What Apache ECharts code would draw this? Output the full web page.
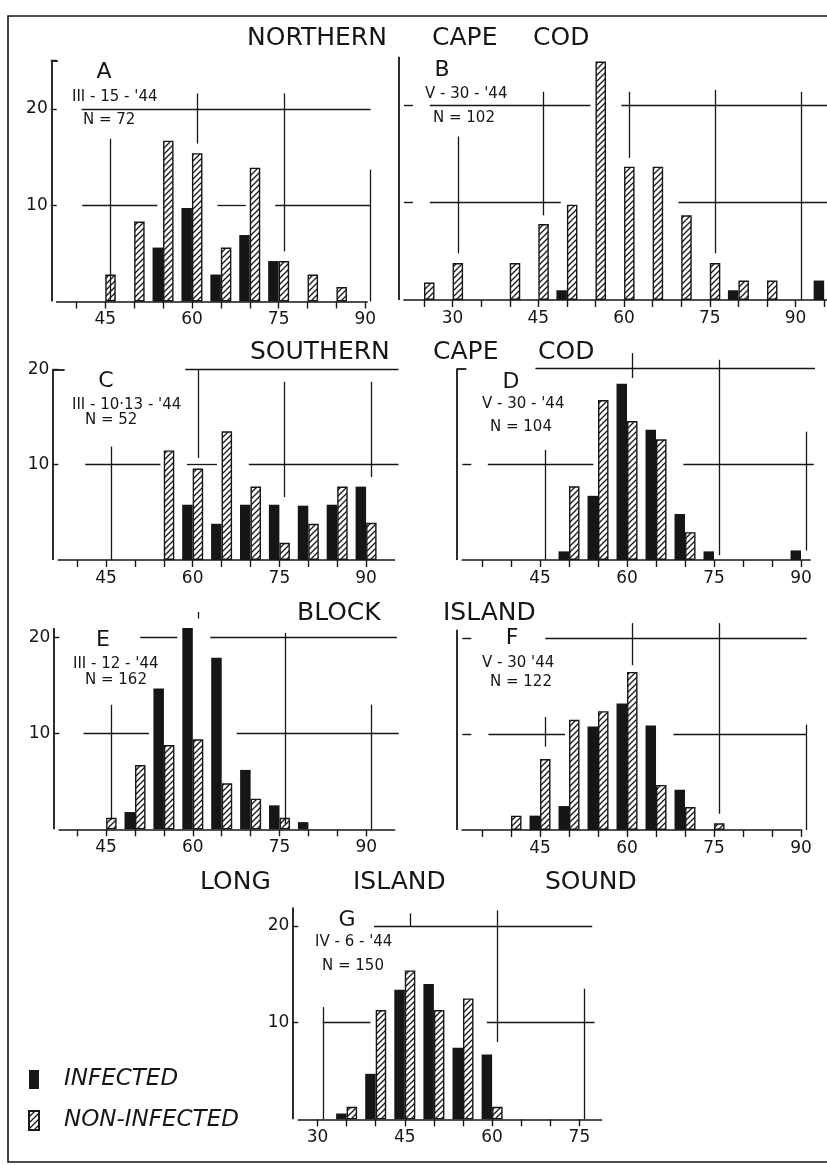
<!DOCTYPE html>
<html><head><meta charset="utf-8">
<script src="https://cdn.jsdelivr.net/npm/echarts@6/dist/echarts.min.js"></script>
<style>html,body{margin:0;padding:0;background:#fff}#c{width:827px;height:1165px}</style>
</head><body><div id="c"></div>
<script>
// ---------- DATA (percent of sample per 5-unit class) ----------
const binsA = [45,50,55,60,65,70,75,80,85];
const infA  = [0,0,5.6,9.7,2.8,6.9,4.2,0,0];
const nonA  = [2.8,8.3,16.7,15.4,5.6,13.9,4.2,2.8,1.5];

const binsB = [25,30,35,40,45,50,55,60,65,70,75,80,85,90,95];
const infB  = [0,0,0,0,0,1.0,0,0,0,0,0,1.0,0,0,2.0];
const nonB  = [1.8,3.8,0,3.8,7.8,9.8,24.5,13.7,13.7,8.7,3.8,2.0,2.0,0,0];

const binsC = [55,60,65,70,75,80,85,90];
const infC  = [0,5.8,3.8,5.8,5.8,5.7,5.8,7.7];
const nonC  = [11.5,9.6,13.5,7.7,1.8,3.8,7.7,3.9];

const binsD = [50,55,60,65,70,75,80,85,90];
const infD  = [0.9,6.7,18.4,13.6,4.8,0.9,0,0,1.0];
const nonD  = [7.7,16.7,14.5,12.6,2.9,0,0,0,0];

const binsE = [45,50,55,60,65,70,75,80];
const infE  = [0,1.8,14.7,21.0,17.9,6.2,2.5,0.75];
const nonE  = [1.2,6.7,8.8,9.4,4.8,3.2,1.2,0];

const binsF = [40,45,50,55,60,65,70,75];
const infF  = [0,1.5,2.5,10.8,13.2,10.9,4.2,0];
const nonF  = [1.5,7.4,11.5,12.4,16.5,4.7,2.4,0.7];

const binsG = [35,40,45,50,55,60];
const infG  = [0.6,4.7,13.4,14.0,7.4,6.7];
const nonG  = [1.3,11.3,15.4,11.3,12.5,1.3];

// tick values / labels
const xTicksA = [40,45,50,55,60,65,70,75,80,85,90], xLabelsA = [45,60,75,90];
const xTicksB = [25,30,35,40,45,50,55,60,65,70,75,80,85,90,95], xLabelsB = [30,45,60,75,90];
const xTicksC = [40,45,50,55,60,65,70,75,80,85,90], xLabelsC = [45,60,75,90];
const xTicksD = [35,40,45,50,55,60,65,70,75,80,85,90], xLabelsD = [45,60,75,90];
const xTicksE = [40,45,50,55,60,65,70,75,80,85,90], xLabelsE = [45,60,75,90];
const xTicksF = [35,40,45,50,55,60,65,70,75,80,85,90], xLabelsF = [45,60,75,90];
const xTicksG = [30,35,40,45,50,55,60,65,70,75], xLabelsG = [30,45,60,75];
const yLabelsLeft = [10,20];

// hand-drawn guide segments (data coordinates)
const guidesA = [[[40,20],[90,20]],[[40.1,10],[53.1,10]],[[63.5,10],[68.4,10]],[[73.5,10],[90,10]],
  [[45,0],[45,16.9]],[[60,16.4],[60,21.6]],[[75,5.2],[75,21.6]],[[90,0],[90,13.7]]];
const guidesB = [[[25.1,20],[53.2,20]],[[58.6,20],[95.5,20]],[[25.1,10],[48,10]],[[68.6,10],[95.5,10]],
  [[30,4.8],[30,16.8]],[[45,8.7],[45,21.4]],[[60,14.6],[60,21.4]],[[75,4.8],[75,21.6]],[[90,0],[90,21.4]]];
const guidesC = [[[57.8,20],[94.7,20]],[[40.5,10],[53.5,10]],[[58.1,10],[63.3,10]],[[68.8,10],[94.7,10]],
  [[45,0],[45,11.9]],[[60,10.7],[60,20]],[[75,6.6],[75,18.7]],[[90,8.7],[90,18.7]]];
const guidesD = [[[43.3,20],[91.5,20]],[[35.1,10],[53.3,10]],[[68.8,10],[91.3,10]],
  [[45,0],[45,11.5]],[[60,19.0],[60,21.6]],[[75,0.5],[75,20.9]],[[90,1.0],[90,13.4]]];
const guidesE = [[[50,20],[56.4,20]],[[62.1,20],[94.4,20]],[[40.2,10],[51.5,10]],[[66.7,10],[94.7,10]],
  [[45,1],[45,13]],[[60,22],[60,22.7]],[[75,0.5],[75,20.5]],[[90,0],[90,13]]];
const guidesF = [[[45,20],[90.1,20]],[[35.2,10],[48.4,10]],[[67.1,10],[90.1,10]],
  [[45,8.7],[45,11.8]],[[60,17.2],[60,21.6]],[[75,1.7],[75,21.6]],[[90,0],[90,11]]];
const guidesG = [[[38.8,20],[76.3,20]],[[30,10],[38.2,10]],[[58.2,10],[76.7,10]],
  [[30,0],[30,11.6]],[[45,19.9],[45,21.3]],[[60,8],[60,21.6]],[[75,0],[75,13.5]]];

// ---------- LAYOUT ----------
const INK = '#161616';
const FONT = '"DejaVu Sans", "Liberation Sans", sans-serif';
const panels = [
  {bins:binsA, inf:infA, non:nonA, xMin:36.6, xMax:90.3, yMax:25, axisTop:25, bracket:1.1, left:56.7, ppx:5.78, base:301.5, ppu:9.63, xT:xTicksA, xL:xLabelsA, yT:[10,20,25], yL:yLabelsLeft, inside:false, guides:guidesA},
  {bins:binsB, inf:infB, non:nonB, xMin:21.5, xMax:95.5, yMax:25, axisTop:25, bracket:0, left:404, ppx:5.83, base:300, ppu:9.73, xT:xTicksB, xL:xLabelsB, yT:[10,20], yL:[], inside:true, guides:guidesB},
  {bins:binsC, inf:infC, non:nonC, xMin:36.75, xMax:94.9, yMax:23, axisTop:20, bracket:2.0, left:58.3, ppx:5.78, base:560, ppu:9.53, xT:xTicksC, xL:xLabelsC, yT:[10,20], yL:yLabelsLeft, inside:false, guides:guidesC},
  {bins:binsD, inf:infD, non:nonD, xMin:31.6, xMax:91.55, yMax:23, axisTop:20, bracket:1.6, left:462.3, ppx:5.8, base:560, ppu:9.58, xT:xTicksD, xL:xLabelsD, yT:[10], yL:[], inside:true, guides:guidesD},
  {bins:binsE, inf:infE, non:nonE, xMin:36.9, xMax:94.9, yMax:23, axisTop:21, bracket:0, left:59.3, ppx:5.78, base:829.3, ppu:9.58, xT:xTicksE, xL:xLabelsE, yT:[10,20], yL:yLabelsLeft, inside:false, guides:guidesE},
  {bins:binsF, inf:infF, non:nonF, xMin:31.6, xMax:90.1, yMax:23, axisTop:20.9, bracket:0, left:462.3, ppx:5.8, base:830, ppu:9.58, xT:xTicksF, xL:xLabelsF, yT:[10,20], yL:[], inside:true, guides:guidesF},
  {bins:binsG, inf:infG, non:nonG, xMin:26.7, xMax:78.8, yMax:23, axisTop:21.9, bracket:0, left:298.3, ppx:5.82, base:1119.3, ppu:9.67, xT:xTicksG, xL:xLabelsG, yT:[10,20], yL:yLabelsLeft, inside:false, guides:guidesG}
];

function hatchCanvas() {
  const s = 6, c = document.createElement('canvas');
  c.width = s; c.height = s;
  const g = c.getContext('2d');
  g.fillStyle = '#fff'; g.fillRect(0, 0, s, s);
  g.strokeStyle = INK; g.lineWidth = 1.3; g.lineCap = 'square';
  g.beginPath();
  g.moveTo(-1, s + 1); g.lineTo(s + 1, -1);
  g.moveTo(-1, 1); g.lineTo(1, -1);
  g.moveTo(s - 1, s + 1); g.lineTo(s + 1, s - 1);
  g.stroke();
  return c;
}
const HATCH = {image: hatchCanvas(), repeat: 'repeat'};

const grid = [], xAxis = [], yAxis = [], series = [];
panels.forEach((p, i) => {
  const h = p.yMax * p.ppu;
  grid.push({left: p.left, width: (p.xMax - p.xMin) * p.ppx, top: p.base - h, height: h});
  xAxis.push({
    gridIndex: i, type: 'value', min: p.xMin, max: p.xMax,
    axisLine: {show: true, onZero: false, lineStyle: {color: INK, width: 1.7}},
    axisTick: {show: true, customValues: p.xT, length: 7, lineStyle: {color: INK, width: 1.4}},
    axisLabel: {show: true, customValues: p.xL, margin: 10, fontSize: 17, color: INK, fontFamily: FONT},
    splitLine: {show: false}
  });
  yAxis.push({
    gridIndex: i, type: 'value', min: 0, max: p.yMax,
    axisLine: {show: false},
    axisTick: {show: true, customValues: p.yT, inside: p.inside, length: p.inside ? 9 : 6, lineStyle: {color: INK, width: 1.4}},
    axisLabel: {show: p.yL.length > 0, customValues: p.yL, margin: 9, fontSize: 17, color: INK, fontFamily: FONT},
    splitLine: {show: false}
  });
  const segs = p.guides.map(s => [{coord: s[0]}, {coord: s[1]}]);
  const axisSegs = [[{coord: [p.xMin, 0]}, {coord: [p.xMin, p.axisTop]}]];
  if (p.bracket > 0) axisSegs.push([{coord: [p.xMin, p.axisTop]}, {coord: [p.xMin + p.bracket, p.axisTop]}]);
  series.push({
    type: 'bar', name: 'INFECTED', xAxisIndex: i, yAxisIndex: i,
    data: p.bins.map((b, j) => [b, p.inf[j]]).filter(d => d[1] > 0),
    barWidth: 10.5, barGap: '0%', itemStyle: {color: INK}, silent: true,
    markLine: {silent: true, symbol: ['none', 'none'], label: {show: false},
      lineStyle: {color: INK, width: 1.8, type: 'solid'}, emphasis: {disabled: true}, data: axisSegs}
  });
  series.push({
    type: 'bar', name: 'NON-INFECTED', xAxisIndex: i, yAxisIndex: i,
    data: p.bins.map((b, j) => [b, p.non[j]]).filter(d => d[1] > 0),
    barWidth: 10.5, barGap: '0%', itemStyle: {color: HATCH, borderColor: INK, borderWidth: 1.4}, silent: true,
    markLine: {silent: true, symbol: ['none', 'none'], label: {show: false},
      lineStyle: {color: INK, width: 1.3, type: 'solid'}, emphasis: {disabled: true}, data: segs}
  });
});

function txt(text, x, y, size, align, extra) {
  return Object.assign({type: 'text', x: x, y: y, silent: true,
    style: {text: text, fontSize: size, fontFamily: FONT, fill: INK, align: align || 'left', verticalAlign: 'middle'}}, extra || {});
}
const graphic = [
  {type: 'rect', silent: true, shape: {x: 8, y: 16, width: 860, height: 1146}, style: {fill: 'none', stroke: INK, lineWidth: 1.6}},
  // section titles
  txt('NORTHERN', 247, 38, 25), txt('CAPE', 432, 38, 25), txt('COD', 533, 38, 25),
  txt('SOUTHERN', 250, 352, 25), txt('CAPE', 433, 352, 25), txt('COD', 538, 352, 25),
  txt('BLOCK', 297, 613, 25), txt('ISLAND', 443, 613, 25),
  txt('LONG', 200, 882, 25), txt('ISLAND', 353, 882, 25), txt('SOUND', 545, 882, 25),
  // panel letters
  txt('A', 104, 72, 22, 'center'), txt('B', 442, 70, 22, 'center'), txt('C', 106, 381, 22, 'center'),
  txt('D', 511, 382, 22, 'center'), txt('E', 103, 640, 22, 'center'), txt('F', 512, 638, 22, 'center'),
  txt('G', 347, 920, 22, 'center'),
  // dates and sample sizes
  txt("III - 15 - '44", 72, 97, 15), txt('N = 72', 83, 120, 15),
  txt("V - 30 - '44", 425, 94, 15), txt('N = 102', 433, 118, 15),
  txt("III - 10·13 - '44", 72, 405, 15), txt('N = 52', 85, 420, 15),
  txt("V - 30 - '44", 482, 404, 15), txt('N = 104', 490, 427, 15),
  txt("III - 12 - '44", 73, 664, 15), txt('N = 162', 85, 680, 15),
  txt("V - 30 '44", 482, 663, 15), txt('N = 122', 490, 682, 15),
  txt("IV - 6 - '44", 315, 942, 15), txt('N = 150', 322, 966, 15)
];

const chart = echarts.init(document.getElementById('c'), null, {renderer: 'canvas'});
chart.setOption({
  animation: false,
  backgroundColor: '#ffffff',
  grid: grid, xAxis: xAxis, yAxis: yAxis, series: series, graphic: graphic,
  legend: {
    data: ['INFECTED', 'NON-INFECTED'], orient: 'vertical', left: 28, top: 1068,
    itemWidth: 10, itemHeight: 19, itemGap: 18, icon: 'rect', selectedMode: false, padding: 0,
    textStyle: {fontFamily: FONT, fontStyle: 'italic', fontSize: 23, color: INK, padding: [0, 0, 0, 20]}
  }
});
</script></body></html>
